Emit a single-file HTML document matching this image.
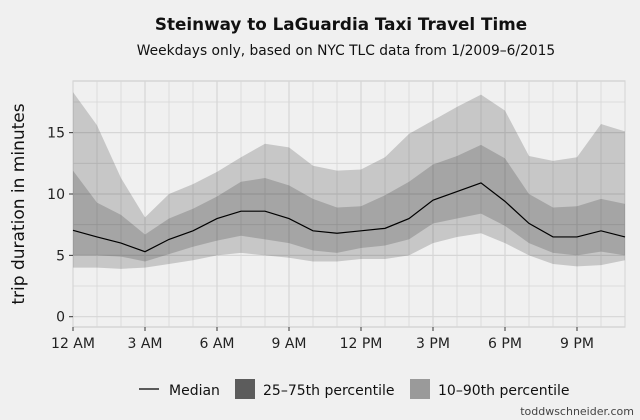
<!DOCTYPE html>
<html><head><meta charset="utf-8"><style>
body{margin:0;background:#f0f0f0;}
svg{display:block;font-family:"DejaVu Sans","Liberation Sans",sans-serif;}
</style></head><body>
<svg id="chart" width="640" height="420">
<rect width="640" height="420" fill="#f0f0f0"/>
<text x="341" y="30" text-anchor="middle" font-size="16.8" font-weight="bold" fill="#111">Steinway to LaGuardia Taxi Travel Time</text>
<text x="346" y="55" text-anchor="middle" font-size="13.8" fill="#111">Weekdays only, based on NYC TLC data from 1/2009–6/2015</text>
<g id="grid"></g><g id="bands"></g><g id="axes"></g>
<text transform="translate(24,204) rotate(-90)" text-anchor="middle" font-size="17" fill="#111">trip duration in minutes</text>
<g>
<line x1="139" y1="389" x2="159" y2="389" stroke="#000" stroke-width="1.3"/>
<text x="169" y="395" font-size="14" fill="#111">Median</text>
<rect x="235" y="379" width="20" height="20" fill="#5c5c5c"/>
<text x="263" y="395" font-size="14" fill="#111">25–75th percentile</text>
<rect x="410" y="379" width="20" height="20" fill="#9a9a9a"/>
<text x="438" y="395" font-size="14" fill="#111">10–90th percentile</text>
</g>
<text x="634" y="415" text-anchor="end" font-size="11" fill="#444">toddwschneider.com</text>
</svg>
<script>
const hours=[0,1,2,3,4,5,6,7,8,9,10,11,12,13,14,15,16,17,18,19,20,21,22,23];
const p90=[18.3,15.6,11.3,8.1,10.0,10.8,11.8,13.0,14.1,13.8,12.3,11.9,12.0,13.0,14.9,16.0,17.1,18.1,16.8,13.1,12.7,13.0,15.7,15.1];
const p75=[11.9,9.3,8.3,6.7,8.0,8.8,9.8,11.0,11.3,10.7,9.6,8.9,9.0,9.9,11.0,12.4,13.1,14.0,12.9,10.0,8.9,9.0,9.6,9.2];
const median=[7.04,6.5,6.0,5.3,6.3,7.0,8.0,8.6,8.6,8.0,7.0,6.8,7.0,7.2,8.0,9.5,10.2,10.9,9.4,7.6,6.5,6.5,7.0,6.5];
const p25=[5.0,5.0,4.9,4.5,5.1,5.7,6.2,6.6,6.3,6.0,5.4,5.2,5.6,5.8,6.3,7.6,8.0,8.4,7.4,6.0,5.2,5.0,5.3,5.0];
const p10=[4.0,4.0,3.9,4.0,4.3,4.6,5.0,5.2,5.0,4.8,4.5,4.5,4.7,4.7,5.0,6.0,6.5,6.8,6.0,5.0,4.3,4.1,4.2,4.6];
const yTicks=[0,5,10,15];
const xTickHours=[0,3,6,9,12,15,18,21];
const xTickLabels=["12 AM","3 AM","6 AM","9 AM","12 PM","3 PM","6 PM","9 PM"];
const NS="http://www.w3.org/2000/svg";
const L=73,R=625,T=81,B=327;
const X=h=>L+(h-0)*(R-L)/23;
const Y=v=>316.7-v*12.27;
function mk(tag,attrs,parent){const e=document.createElementNS(NS,tag);for(const k in attrs)e.setAttribute(k,attrs[k]);parent.appendChild(e);return e;}
const grid=document.getElementById('grid'),bands=document.getElementById('bands'),axes=document.getElementById('axes');
const panel=mk('rect',{x:L,y:T,width:R-L,height:B-T,fill:'#f0f0f0',stroke:'#c8c8c8','stroke-width':1},grid);


for(let v=-2.5;v<=19;v+=2.5){const y=Y(v);if(y<T||y>B)continue;const g=mk('line',{x1:L,x2:R,y1:y,y2:y,stroke:'#d6d6d6','stroke-width':v%5===0?1.2:0.8},grid);

}
hours.forEach(h=>{const g=mk('line',{x1:X(h),x2:X(h),y1:T,y2:B,stroke:'#d6d6d6','stroke-width':h%3===0?1.2:0.8},grid);

});
function band(hi,lo,name){const pts=hours.map((h,i)=>X(h)+','+Y(hi[i])).concat(hours.slice().reverse().map((h,j)=>{const i=hours.length-1-j;return X(h)+','+Y(lo[i]);}));
const p=mk('polygon',{points:pts.join(' '),fill:'rgba(0,0,0,0.17)'},bands);

}
band(p90,p10,'band-10-90');
band(p75,p25,'band-25-75');
const ml=mk('polyline',{points:hours.map((h,i)=>X(h)+','+Y(median[i])).join(' '),fill:'none',stroke:'#000','stroke-width':1.2},bands);


yTicks.forEach(v=>{mk('line',{x1:L-4,x2:L,y1:Y(v),y2:Y(v),stroke:'#333'},axes);
const t=mk('text',{x:L-8,y:Y(v)+5,'text-anchor':'end','font-size':14,fill:'#222'},axes);t.textContent=v;

});
xTickHours.forEach((h,i)=>{mk('line',{x1:X(h),x2:X(h),y1:B,y2:B+4,stroke:'#333'},axes);
const t=mk('text',{x:X(h),y:B+21,'text-anchor':'middle','font-size':14,fill:'#222'},axes);t.textContent=xTickLabels[i];

});
</script>
</body></html>
